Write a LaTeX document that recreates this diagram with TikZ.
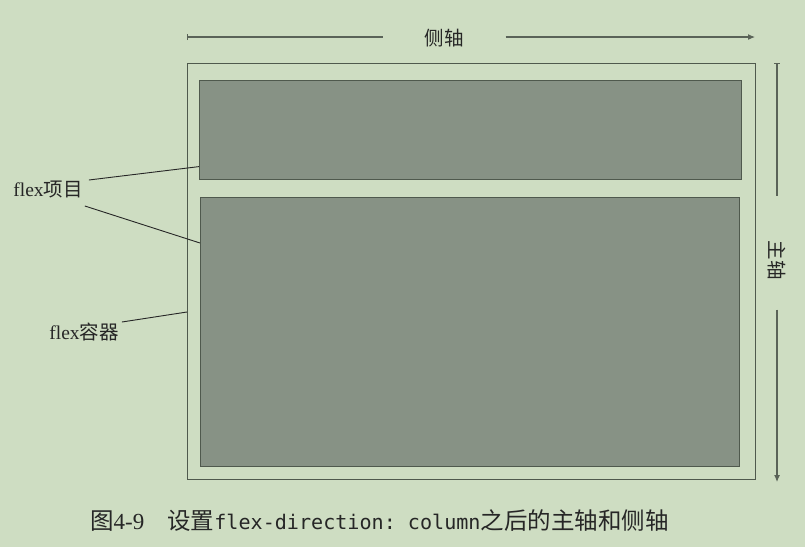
\documentclass[tikz,border=0pt]{standalone}
\usepackage{fontspec}
\setmainfont{Liberation Serif}
\setmonofont{DejaVu Sans Mono}
\newfontfamily\cjk{Noto Sans CJK SC}
\usetikzlibrary{arrows.meta}
\definecolor{bg}{HTML}{CEDDC2}
\definecolor{itemfill}{HTML}{879285}
\definecolor{edge}{HTML}{4F594D}
\definecolor{ink}{HTML}{262626}
\definecolor{axisc}{HTML}{5A6358}
\newcommand{\capcjk}[1]{{\fontsize{23.5}{28}\selectfont\cjk #1}}
\newcommand{\capmono}[1]{{\fontsize{20.1}{28}\selectfont\ttfamily #1}}
\begin{document}
\begin{tikzpicture}[x=1pt,y=-1pt,
  container/.style={draw=edge,line width=1.2pt,inner sep=0pt,anchor=north west},
  item/.style={draw=edge,line width=1.2pt,fill=itemfill,inner sep=0pt,anchor=north west},
  leader/.style={draw=ink,line width=0.9pt},
  axisline/.style={draw=axisc,line width=1.1pt},
  lbl/.style={inner sep=0pt,font=\fontsize{19.5}{22}\selectfont,text=ink},
  captext/.style={inner sep=0pt,font=\fontsize{23}{28}\selectfont,text=ink,anchor=west}]
\fill[bg] (0,0) rectangle (805,547);
\useasboundingbox (0,0) rectangle (805,547);
% boxes
\node[container,minimum width=568pt,minimum height=416pt] (cont) at (187,63) {};
\node[item,minimum width=542pt,minimum height=99pt] (item1) at (199,80) {};
\node[item,minimum width=539pt,minimum height=269pt] (item2) at (200,197) {};
% labels
\node[lbl] (litem) at (48,190) {flex{\cjk 项目}};
\node[lbl] (lcont) at (84,332) {flex{\cjk 容器}};
\draw[leader] ([xshift=6pt,yshift=10pt]litem.east) -- ([yshift=-36.5pt]item1.west);
\draw[leader] ([xshift=2pt,yshift=-16pt]litem.east) -- ([yshift=-46pt]item2.north west);
\draw[leader] ([xshift=3pt,yshift=10pt]lcont.east) -- ([yshift=-249pt]cont.north west);
% cross axis
\node[lbl] (cross) at (444,38) {{\cjk 侧轴}};
\coordinate (hstart) at (187,37);
\coordinate (hend) at (755,37);
\draw[axisline,{Bar[width=6pt,line width=1pt]}-] (hstart) -- ([xshift=-41pt]cross.west |- hstart);
\draw[axisline,-{Latex[length=7pt,width=6pt]}] ([xshift=42pt]cross.east |- hstart) -- (hend);
% main axis
\node[lbl,rotate=-90] (mainax) at (777,260) {{\cjk 主轴}};
\coordinate (vstart) at (777,63);
\coordinate (vend) at (777,482);
\draw[axisline,{Bar[width=6pt,line width=1pt]}-] (vstart) -- ([yshift=44pt]mainax.west -| vstart);
\draw[axisline,-{Latex[length=7pt,width=6pt]}] ([yshift=-30pt]mainax.east -| vstart) -- (vend);
% caption
\node[captext] (caption) at (90,521) {\capcjk{图}4-9\hspace{23pt}\capcjk{设置}\capmono{flex-direction: column}\capcjk{之后的主轴和侧轴}};
\end{tikzpicture}
\end{document}
